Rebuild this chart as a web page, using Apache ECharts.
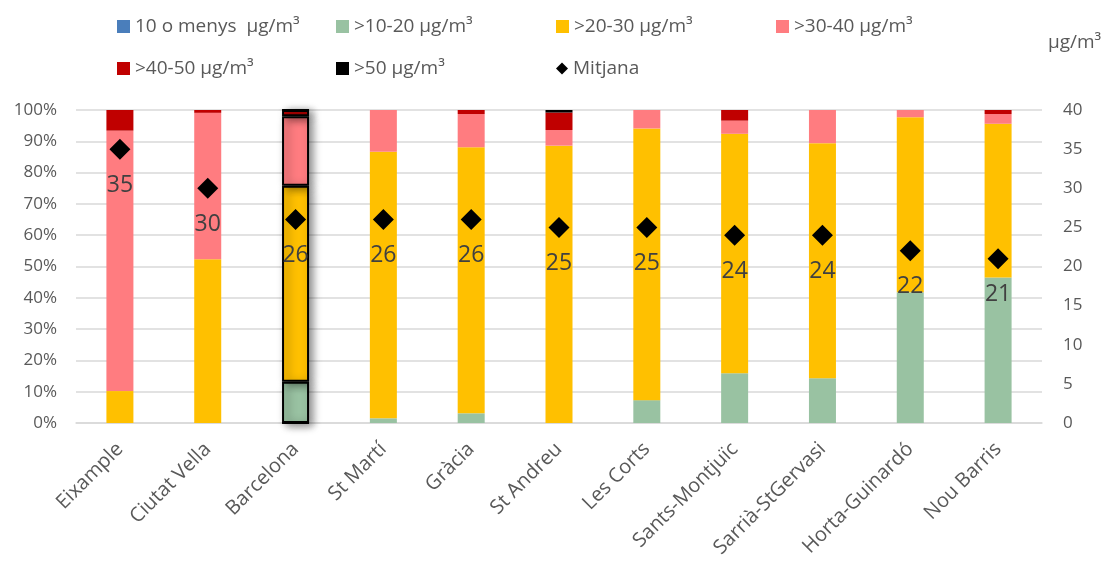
<!DOCTYPE html>
<html><head><meta charset="utf-8">
<script src="https://cdn.jsdelivr.net/npm/echarts@6/dist/echarts.min.js"></script>
<style>html,body{margin:0;padding:0;background:#fff}#c{width:1110px;height:564px}</style>
</head><body><div id="c"></div>
<script>
const categories = ['Eixample','Ciutat Vella','Barcelona','St Martí','Gràcia','St Andreu','Les Corts','Sants-Montjuïc','Sarrià-StGervasi','Horta-Guinardó','Nou Barris'];
const seriesNames = ['10 o menys  µg/m³','>10-20 µg/m³','>20-30 µg/m³','>30-40 µg/m³','>40-50 µg/m³','>50 µg/m³'];
const s0_10  = [0,0,0,0,0,0,0,0,0,0,0];
const s10_20 = [0,0,13.2,1.5,3.1,0,7.3,15.9,14.3,41.8,46.5];
const s20_30 = [10.2,52.3,62.6,85.2,85.0,88.6,86.8,76.5,75.1,55.9,49.1];
const s30_40 = [83.2,46.8,22.2,13.3,10.6,5.0,5.9,4.2,10.6,2.3,3.1];
const s40_50 = [6.6,0.9,2.0,0,1.3,5.6,0,3.4,0,0,1.3];
const s50    = [0,0,0,0,0,0.8,0,0,0,0,0];
const mitjana = [35,30,26,26,26,25,25,24,24,22,21];
const leftTicks = [0,10,20,30,40,50,60,70,80,90,100];
const rightTicks = [0,5,10,15,20,25,30,35,40];

const colors = ['#4A7EBB','#99C2A2','#FFC000','#FF7C80','#C00000','#000000'];
const stacks = [s0_10,s10_20,s20_30,s30_40,s40_50,s50];
const FONT = '"Open Sans", sans-serif';
const hi = categories.indexOf('Barcelona');

const barSeries = stacks.map((arr,i)=>({
  name: seriesNames[i], type:'bar', stack:'a', yAxisIndex:0, barWidth:27,
  itemStyle:{color:colors[i]},
  data: arr.map((v,j)=> j===hi ? {value:v, itemStyle:{borderColor:'#000',borderWidth:2,shadowBlur:8,shadowOffsetX:4,shadowOffsetY:2,shadowColor:'rgba(0,0,0,0.45)'}} : v)
}));

const legText = {fontFamily:FONT,fontSize:19,color:'#595959'};
const legendNames = [...seriesNames,'Mitjana'];
const legPos = [[112,12],[331,12],[551,12],[771,12],[112,54],[331,54],[551,54]];
const legends = legendNames.map((n,i)=>{
  const isM = n==='Mitjana';
  return {data:[n],left:legPos[i][0],top:legPos[i][1],
    itemWidth:isM?12:13,itemHeight:isM?12:13,itemGap:0,textStyle:legText,
    icon:isM?'diamond':'rect'};
});

const chart = echarts.init(document.getElementById('c'));
chart.setOption({
  animation:false,
  textStyle:{fontFamily:FONT},
  legend:legends,
  grid:{left:76,right:68,top:110,bottom:141},
  xAxis:{type:'category',data:categories,
    axisLine:{lineStyle:{color:'#d9d9d9',width:1.5}},axisTick:{show:false},
    axisLabel:{rotate:45,fontSize:20,color:'#595959',margin:23,fontFamily:FONT,interval:0}},
  yAxis:[
    {type:'value',min:leftTicks[0],max:leftTicks[leftTicks.length-1],interval:10,
     axisLabel:{formatter:'{value}%',fontSize:17,color:'#595959',margin:19,fontFamily:FONT},
     splitLine:{lineStyle:{color:'#d9d9d9',width:1.5}},axisLine:{show:false},axisTick:{show:false}},
    {type:'value',min:rightTicks[0],max:rightTicks[rightTicks.length-1],interval:5,position:'right',
     name:'µg/m³',nameLocation:'end',nameGap:0,
     nameTextStyle:{fontSize:19,color:'#595959',fontFamily:FONT,align:'left',verticalAlign:'bottom',padding:[0,0,58,6]},
     axisLabel:{fontSize:17,color:'#595959',margin:21,fontFamily:FONT},
     splitLine:{show:false},axisLine:{show:false},axisTick:{show:false}}
  ],
  series:[...barSeries,
    {name:'Mitjana',type:'scatter',yAxisIndex:1,symbol:'diamond',symbolSize:21,
     itemStyle:{color:'#000',opacity:1},z:5,
     label:{show:true,position:'bottom',distance:14,fontSize:23,color:'#404040',fontFamily:FONT},
     data:mitjana}
  ]
});
</script></body></html>
